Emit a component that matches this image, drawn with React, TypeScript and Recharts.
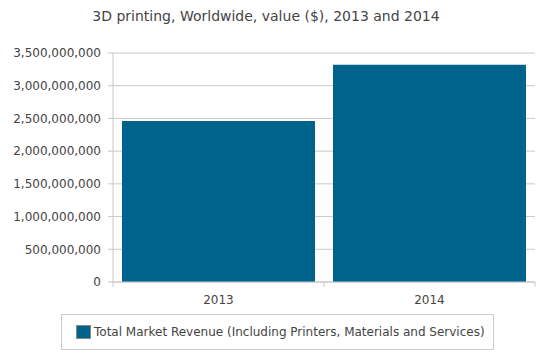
import React from "react";
import { BarChart, Bar, XAxis, YAxis, CartesianGrid, Legend } from "recharts";

const years = ["2013", "2014"];
const revenue = [2460000000, 3320000000];
const yTicks = [0, 500000000, 1000000000, 1500000000, 2000000000, 2500000000, 3000000000, 3500000000];
const seriesName = "Total Market Revenue (Including Printers, Materials and Services)";
const title = "3D printing, Worldwide, value ($), 2013 and 2014";

const data = years.map((y, i) => ({ year: y, value: revenue[i] }));

const FONT = "'DejaVu Sans', Verdana, sans-serif";
const BAR = "#00638c";
const AXIS = "#c8c8c8";

const fmt = (v: number) => v.toLocaleString("en-US");

const XTick = (props: any) => {
  const { x, y, payload, index, visibleTicksCount } = props;
  const off = payload.offset || 0;
  return (
    <g>
      <line x1={x - off} x2={x - off} y1={y - 8} y2={y - 3} stroke={AXIS} />
      {index === (visibleTicksCount ?? 2) - 1 && (
        <line x1={x + off} x2={x + off} y1={y - 8} y2={y - 3} stroke={AXIS} />
      )}
      <text x={x} y={y + 14} textAnchor="middle" fill="#444" fontSize={12} fontFamily={FONT}>
        {payload.value}
      </text>
    </g>
  );
};

const LegendBox = () => (
  <div style={{ paddingLeft: 61, textAlign: "left" }}>
    <div
      style={{
        display: "inline-flex",
        alignItems: "center",
        border: "1px solid #cccccc",
        height: 34,
        boxSizing: "content-box",
        paddingLeft: 14,
        paddingRight: 8,
        fontFamily: FONT,
        fontSize: 12,
        color: "#444",
      }}
    >
      <span
        style={{
          display: "inline-block",
          width: 13,
          height: 12,
          background: BAR,
          border: "1px solid #888",
          marginRight: 3,
        }}
      />
      <span>{seriesName}</span>
    </div>
  </div>
);

export default function App() {
  return (
    <div style={{ position: "absolute", left: 0, top: 0, width: 546, height: 359, background: "#fff" }}>
      <div
        style={{
          position: "absolute",
          left: 0,
          top: 8,
          width: 532,
          textAlign: "center",
          fontFamily: FONT,
          fontSize: 14,
          color: "#444",
        }}
      >
        {title}
      </div>
      <BarChart
        width={546}
        height={359}
        data={data}
        margin={{ top: 53, right: 11, bottom: 9, left: 0 }}
        barCategoryGap={9}
      >
        <CartesianGrid vertical={false} stroke={AXIS} />
        <XAxis
          dataKey="year"
          stroke={AXIS}
          tickLine={false}
          tick={<XTick />}
          height={32}
          interval={0}
        />
        <YAxis
          width={113}
          domain={[0, 3500000000]}
          ticks={yTicks}
          tickFormatter={fmt}
          stroke={AXIS}
          tickSize={5}
          tickMargin={7}
          tick={{ fill: "#444", fontSize: 12, fontFamily: FONT }}
          interval={0}
        />
        <Legend verticalAlign="bottom" align="left" content={<LegendBox />} />
        <Bar dataKey="value" name={seriesName} fill={BAR} isAnimationActive={false} />
      </BarChart>
    </div>
  );
}
